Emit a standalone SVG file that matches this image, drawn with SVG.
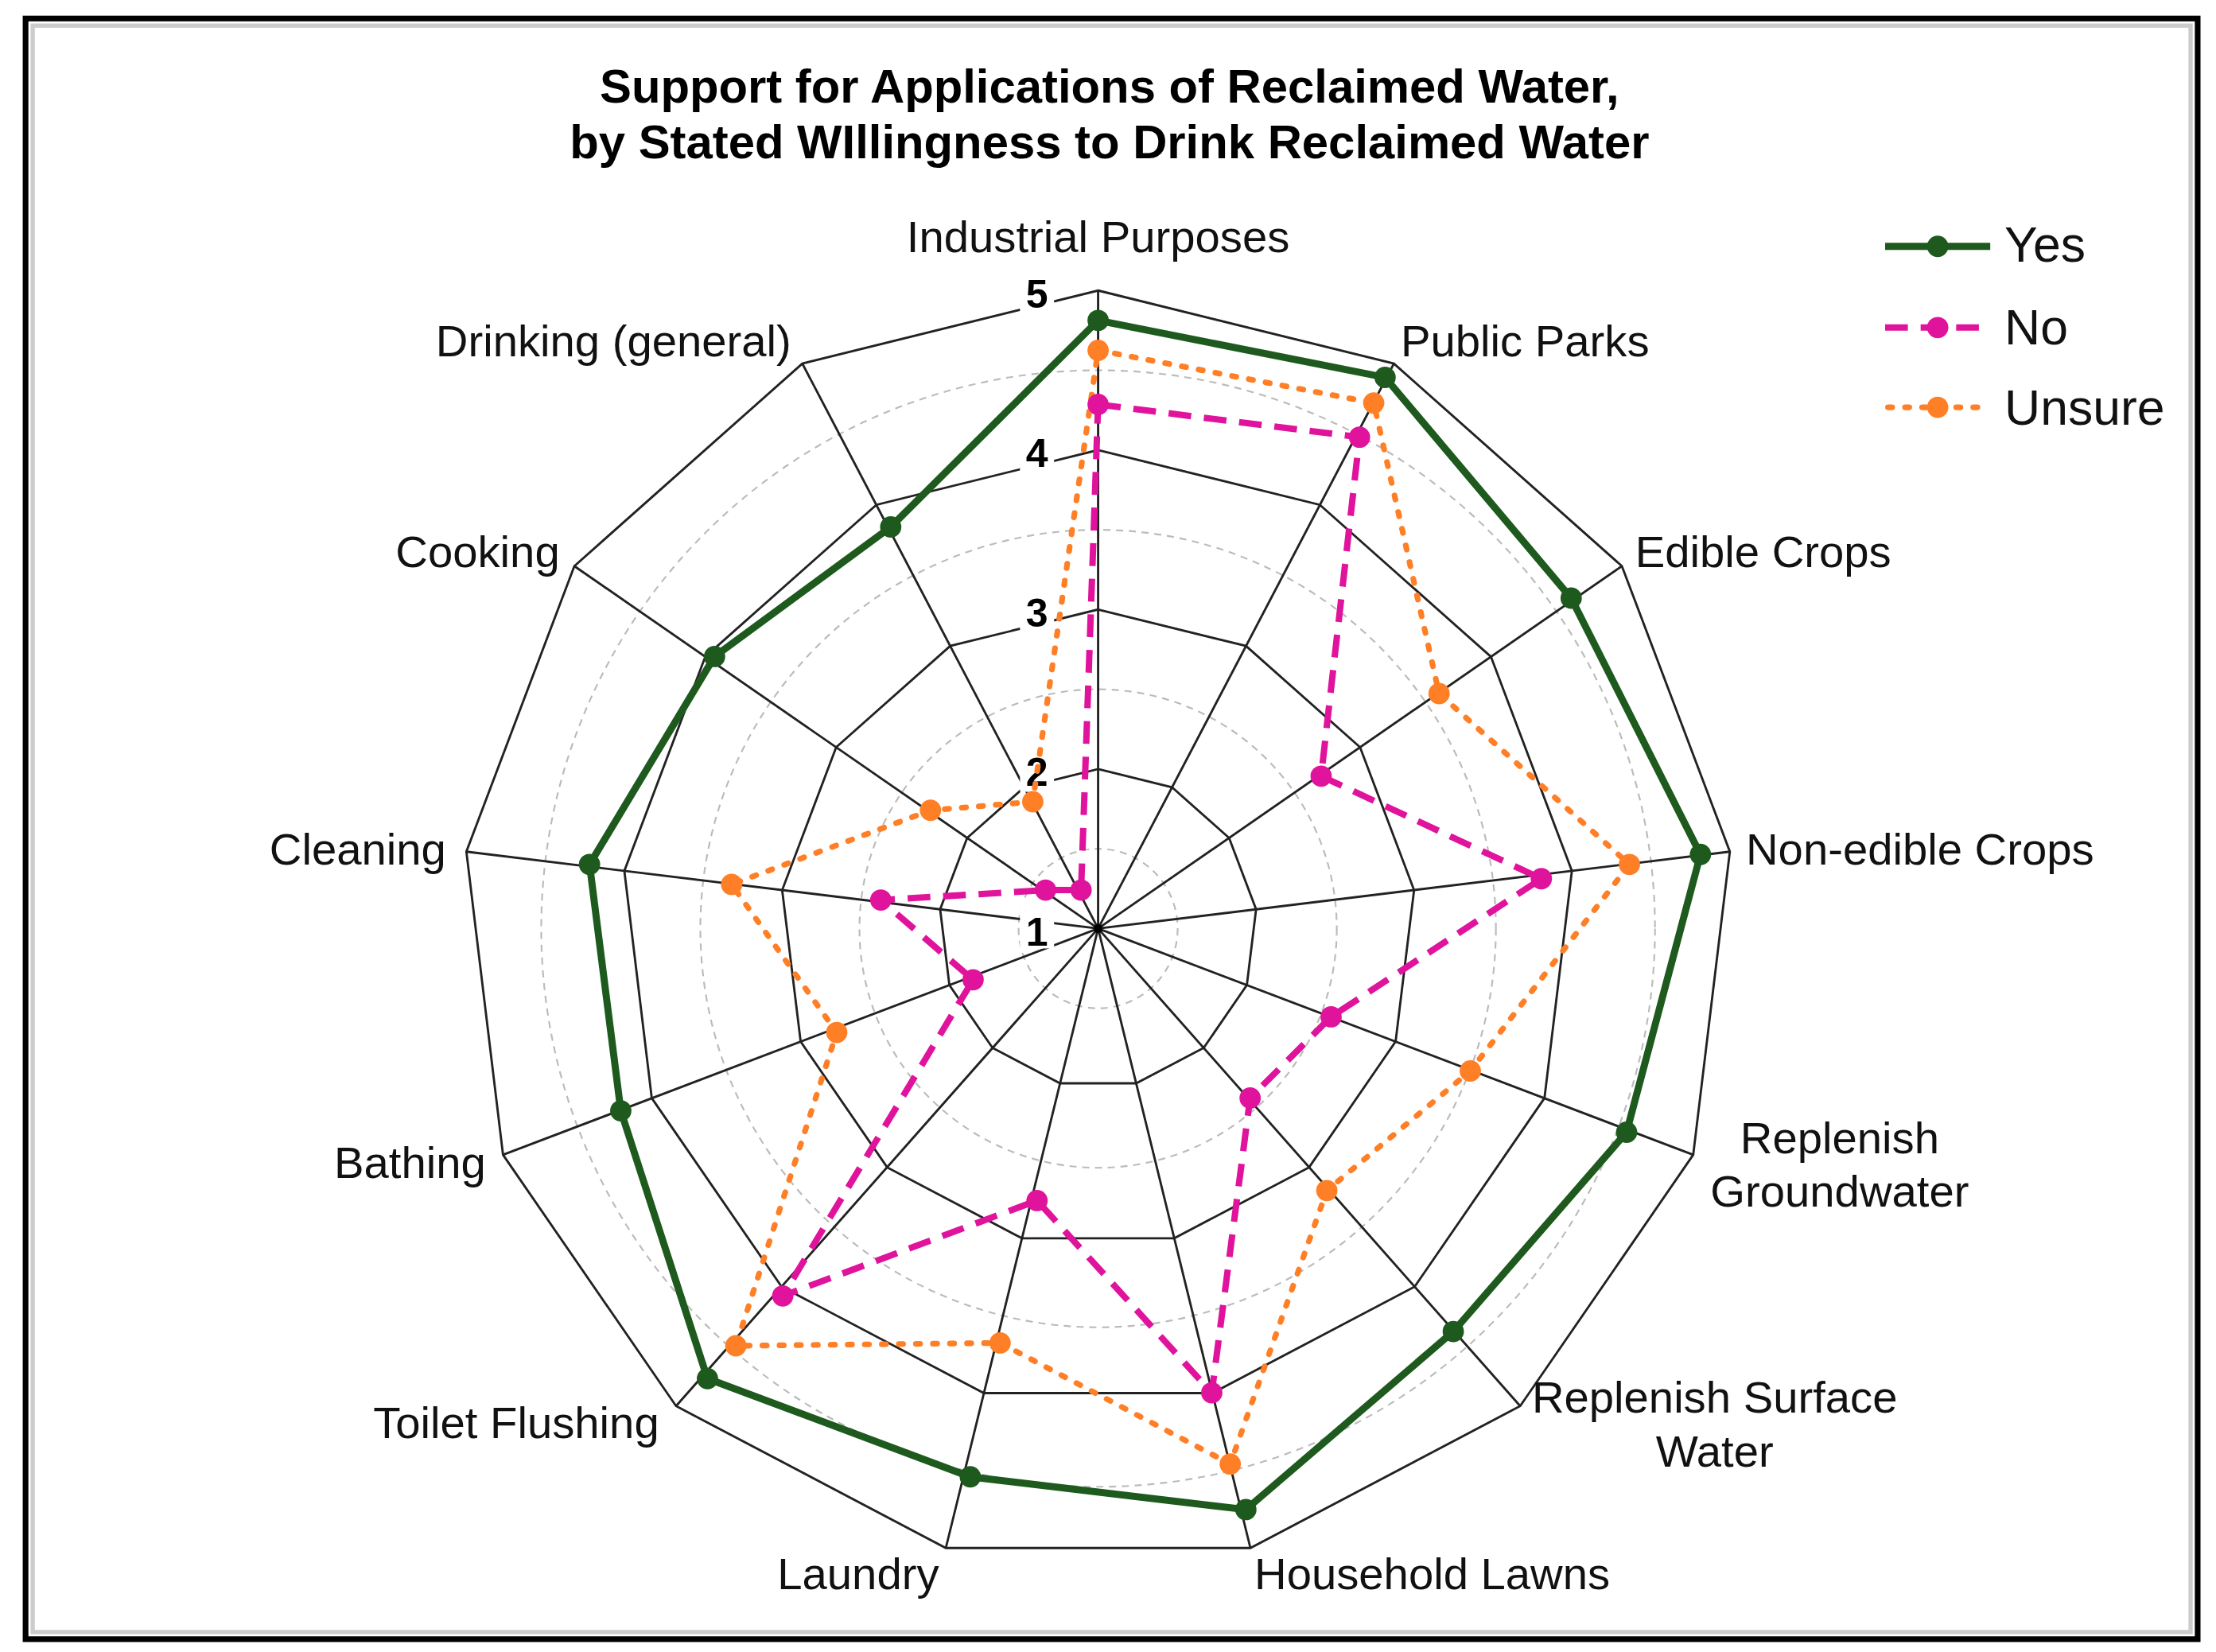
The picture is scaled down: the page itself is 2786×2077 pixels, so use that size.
<svg xmlns="http://www.w3.org/2000/svg" width="2786" height="2077" viewBox="0 0 2786 2077">
<style>
.ring{fill:none;stroke:#222;stroke-width:1.6}
.half{fill:none;stroke:#bbb;stroke-width:1.2;stroke-dasharray:5 4}
.spoke{stroke:#222;stroke-width:1.6}
.lbl{font-family:"Liberation Sans",Arial,sans-serif;font-size:31.5px;fill:#111}
.leg{font-family:"Liberation Sans",Arial,sans-serif;font-size:35px;fill:#111}
.tick{font-family:"Liberation Sans",Arial,sans-serif;font-size:28px;font-weight:bold;fill:#000}
.yes{fill:none;stroke:#1e5a1e;stroke-width:5}
.no{fill:none;stroke:#e0139c;stroke-width:4.5;stroke-dasharray:16 9}
.uns{fill:none;stroke:#ff7f27;stroke-width:4;stroke-dasharray:3 9;stroke-linecap:round}
.my{fill:#1e5a1e}.mn{fill:#e0139c}.mu{fill:#ff7f27}
</style>
<rect width="2786" height="2077" fill="#fff"/>
<g transform="scale(1.786,1.7905)">
<rect x="18" y="13" width="1529" height="1138" fill="none" stroke="#000" stroke-width="4"/>
<rect x="23" y="18" width="1519" height="1128" fill="none" stroke="#ccc" stroke-width="3"/>
<g id="title" font-family="'Liberation Sans',Arial,sans-serif" font-size="33.5" font-weight="bold" text-anchor="middle">
<text x="781" y="72">Support for Applications of Reclaimed Water,</text>
<text x="781" y="111">by Stated WIllingness to Drink Reclaimed Water</text>
</g>
<g id="grid">
<circle class="half" cx="773" cy="652" r="56"/><circle class="half" cx="773" cy="652" r="168"/>
<circle class="half" cx="773" cy="652" r="280"/><circle class="half" cx="773" cy="652" r="392"/>
<polygon class="ring" points="773,204 981.2,255.3 1141.7,397.5 1217.7,598 1191.9,810.9 1070.1,987.3 880.2,1087 665.8,1087 475.9,987.3 354.1,810.9 328.3,598 404.3,397.5 564.8,255.3"/>
<polygon class="ring" points="773,316 929.1,354.5 1049.5,461.1 1106.5,611.5 1087.2,771.1 995.8,903.5 853.4,978.2 692.6,978.2 550.2,903.5 458.8,771.1 439.5,611.5 496.5,461.1 616.9,354.5"/>
<polygon class="ring" points="773,428 877.1,453.6 957.4,524.7 995.4,625 982.4,731.4 921.5,819.7 826.6,869.5 719.4,869.5 624.5,819.7 563.6,731.4 550.6,625 588.6,524.7 668.9,453.6"/>
<polygon class="ring" points="773,540 825,552.8 865.2,588.4 884.2,638.5 877.7,691.7 847.3,735.8 799.8,760.7 746.2,760.7 698.7,735.8 668.3,691.7 661.8,638.5 680.8,588.4 721,552.8"/>
<path class="spoke" d="M773,652L773,204M773,652L981.2,255.3M773,652L1141.7,397.5M773,652L1217.7,598M773,652L1191.9,810.9M773,652L1070.1,987.3M773,652L880.2,1087M773,652L665.8,1087M773,652L475.9,987.3M773,652L354.1,810.9M773,652L328.3,598M773,652L404.3,397.5M773,652L564.8,255.3"/>
<circle cx="773" cy="652" r="3" fill="#000"/>
</g>
<g id="ticks">
<rect x="718" y="632" width="24" height="34" fill="#fff"/><text class="tick" x="730" y="664" text-anchor="middle">1</text>
<rect x="718" y="522" width="24" height="34" fill="#fff"/><text class="tick" x="730" y="552" text-anchor="middle">2</text>
<rect x="718" y="410" width="24" height="34" fill="#fff"/><text class="tick" x="730" y="440" text-anchor="middle">3</text>
<rect x="718" y="298" width="24" height="34" fill="#fff"/><text class="tick" x="730" y="328" text-anchor="middle">4</text>
<rect x="718" y="186" width="24" height="34" fill="#fff"/><text class="tick" x="730" y="216" text-anchor="middle">5</text>
</g>
<g id="connectors">
<polygon class="uns" points="773,246 967,283 1013,487 1147,607 1035,752 934,836 866,1028 704,943 518,945 589,725 515,621 655,569 727,563"/>
<polygon class="no" points="773,284 957,307 930,545 1085,617 937,714 880,771 853,978 730,843 551,910 685,688 620,632 736,625 761,625"/>
<polygon class="yes" points="773,225 975,265 1106,420 1197,600 1145,795 1023,935 877,1060 683,1037 498,968 437,780 415,607 503,461 627,370"/>
</g>
<g id="markers">
<g class="mu"><circle cx="773" cy="246" r="7.5"/><circle cx="967" cy="283" r="7.5"/><circle cx="1013" cy="487" r="7.5"/><circle cx="1147" cy="607" r="7.5"/><circle cx="1035" cy="752" r="7.5"/><circle cx="934" cy="836" r="7.5"/><circle cx="866" cy="1028" r="7.5"/><circle cx="704" cy="943" r="7.5"/><circle cx="518" cy="945" r="7.5"/><circle cx="589" cy="725" r="7.5"/><circle cx="515" cy="621" r="7.5"/><circle cx="655" cy="569" r="7.5"/><circle cx="727" cy="563" r="7.5"/></g>
<g class="mn"><circle cx="773" cy="284" r="7.5"/><circle cx="957" cy="307" r="7.5"/><circle cx="930" cy="545" r="7.5"/><circle cx="1085" cy="617" r="7.5"/><circle cx="937" cy="714" r="7.5"/><circle cx="880" cy="771" r="7.5"/><circle cx="853" cy="978" r="7.5"/><circle cx="730" cy="843" r="7.5"/><circle cx="551" cy="910" r="7.5"/><circle cx="685" cy="688" r="7.5"/><circle cx="620" cy="632" r="7.5"/><circle cx="736" cy="625" r="7.5"/><circle cx="761" cy="625" r="7.5"/></g>
<g class="my"><circle cx="773" cy="225" r="7.5"/><circle cx="975" cy="265" r="7.5"/><circle cx="1106" cy="420" r="7.5"/><circle cx="1197" cy="600" r="7.5"/><circle cx="1145" cy="795" r="7.5"/><circle cx="1023" cy="935" r="7.5"/><circle cx="877" cy="1060" r="7.5"/><circle cx="683" cy="1037" r="7.5"/><circle cx="498" cy="968" r="7.5"/><circle cx="437" cy="780" r="7.5"/><circle cx="415" cy="607" r="7.5"/><circle cx="503" cy="461" r="7.5"/><circle cx="627" cy="370" r="7.5"/></g>
</g>
<g id="labels">
<text class="lbl" x="773" y="177" text-anchor="middle">Industrial Purposes</text>
<text class="lbl" x="986" y="250">Public Parks</text>
<text class="lbl" x="1151" y="398">Edible Crops</text>
<text class="lbl" x="1229" y="607">Non-edible Crops</text>
<text class="lbl" x="1295" y="810" text-anchor="middle">Replenish</text>
<text class="lbl" x="1295" y="847" text-anchor="middle">Groundwater</text>
<text class="lbl" x="1207" y="992" text-anchor="middle">Replenish Surface</text>
<text class="lbl" x="1207" y="1030" text-anchor="middle">Water</text>
<text class="lbl" x="883" y="1116">Household Lawns</text>
<text class="lbl" x="661" y="1116" text-anchor="end">Laundry</text>
<text class="lbl" x="464" y="1010" text-anchor="end">Toilet Flushing</text>
<text class="lbl" x="342" y="827" text-anchor="end">Bathing</text>
<text class="lbl" x="314" y="607" text-anchor="end">Cleaning</text>
<text class="lbl" x="394" y="398" text-anchor="end">Cooking</text>
<text class="lbl" x="557" y="250" text-anchor="end">Drinking (general)</text>
</g>
<g id="legend">
<line class="yes" x1="1327" y1="173" x2="1401" y2="173"/><circle class="my" cx="1364" cy="173" r="7.5"/>
<text class="leg" x="1411" y="184">Yes</text>
<line class="no" x1="1327" y1="230" x2="1401" y2="230" stroke-dasharray="20 9"/><circle class="mn" cx="1364" cy="230" r="7.5"/>
<text class="leg" x="1411" y="242">No</text>
<line class="uns" x1="1329" y1="286" x2="1401" y2="286"/><circle class="mu" cx="1364" cy="286" r="7.5"/>
<text class="leg" x="1411" y="298">Unsure</text>
</g>
</g>
</svg>
